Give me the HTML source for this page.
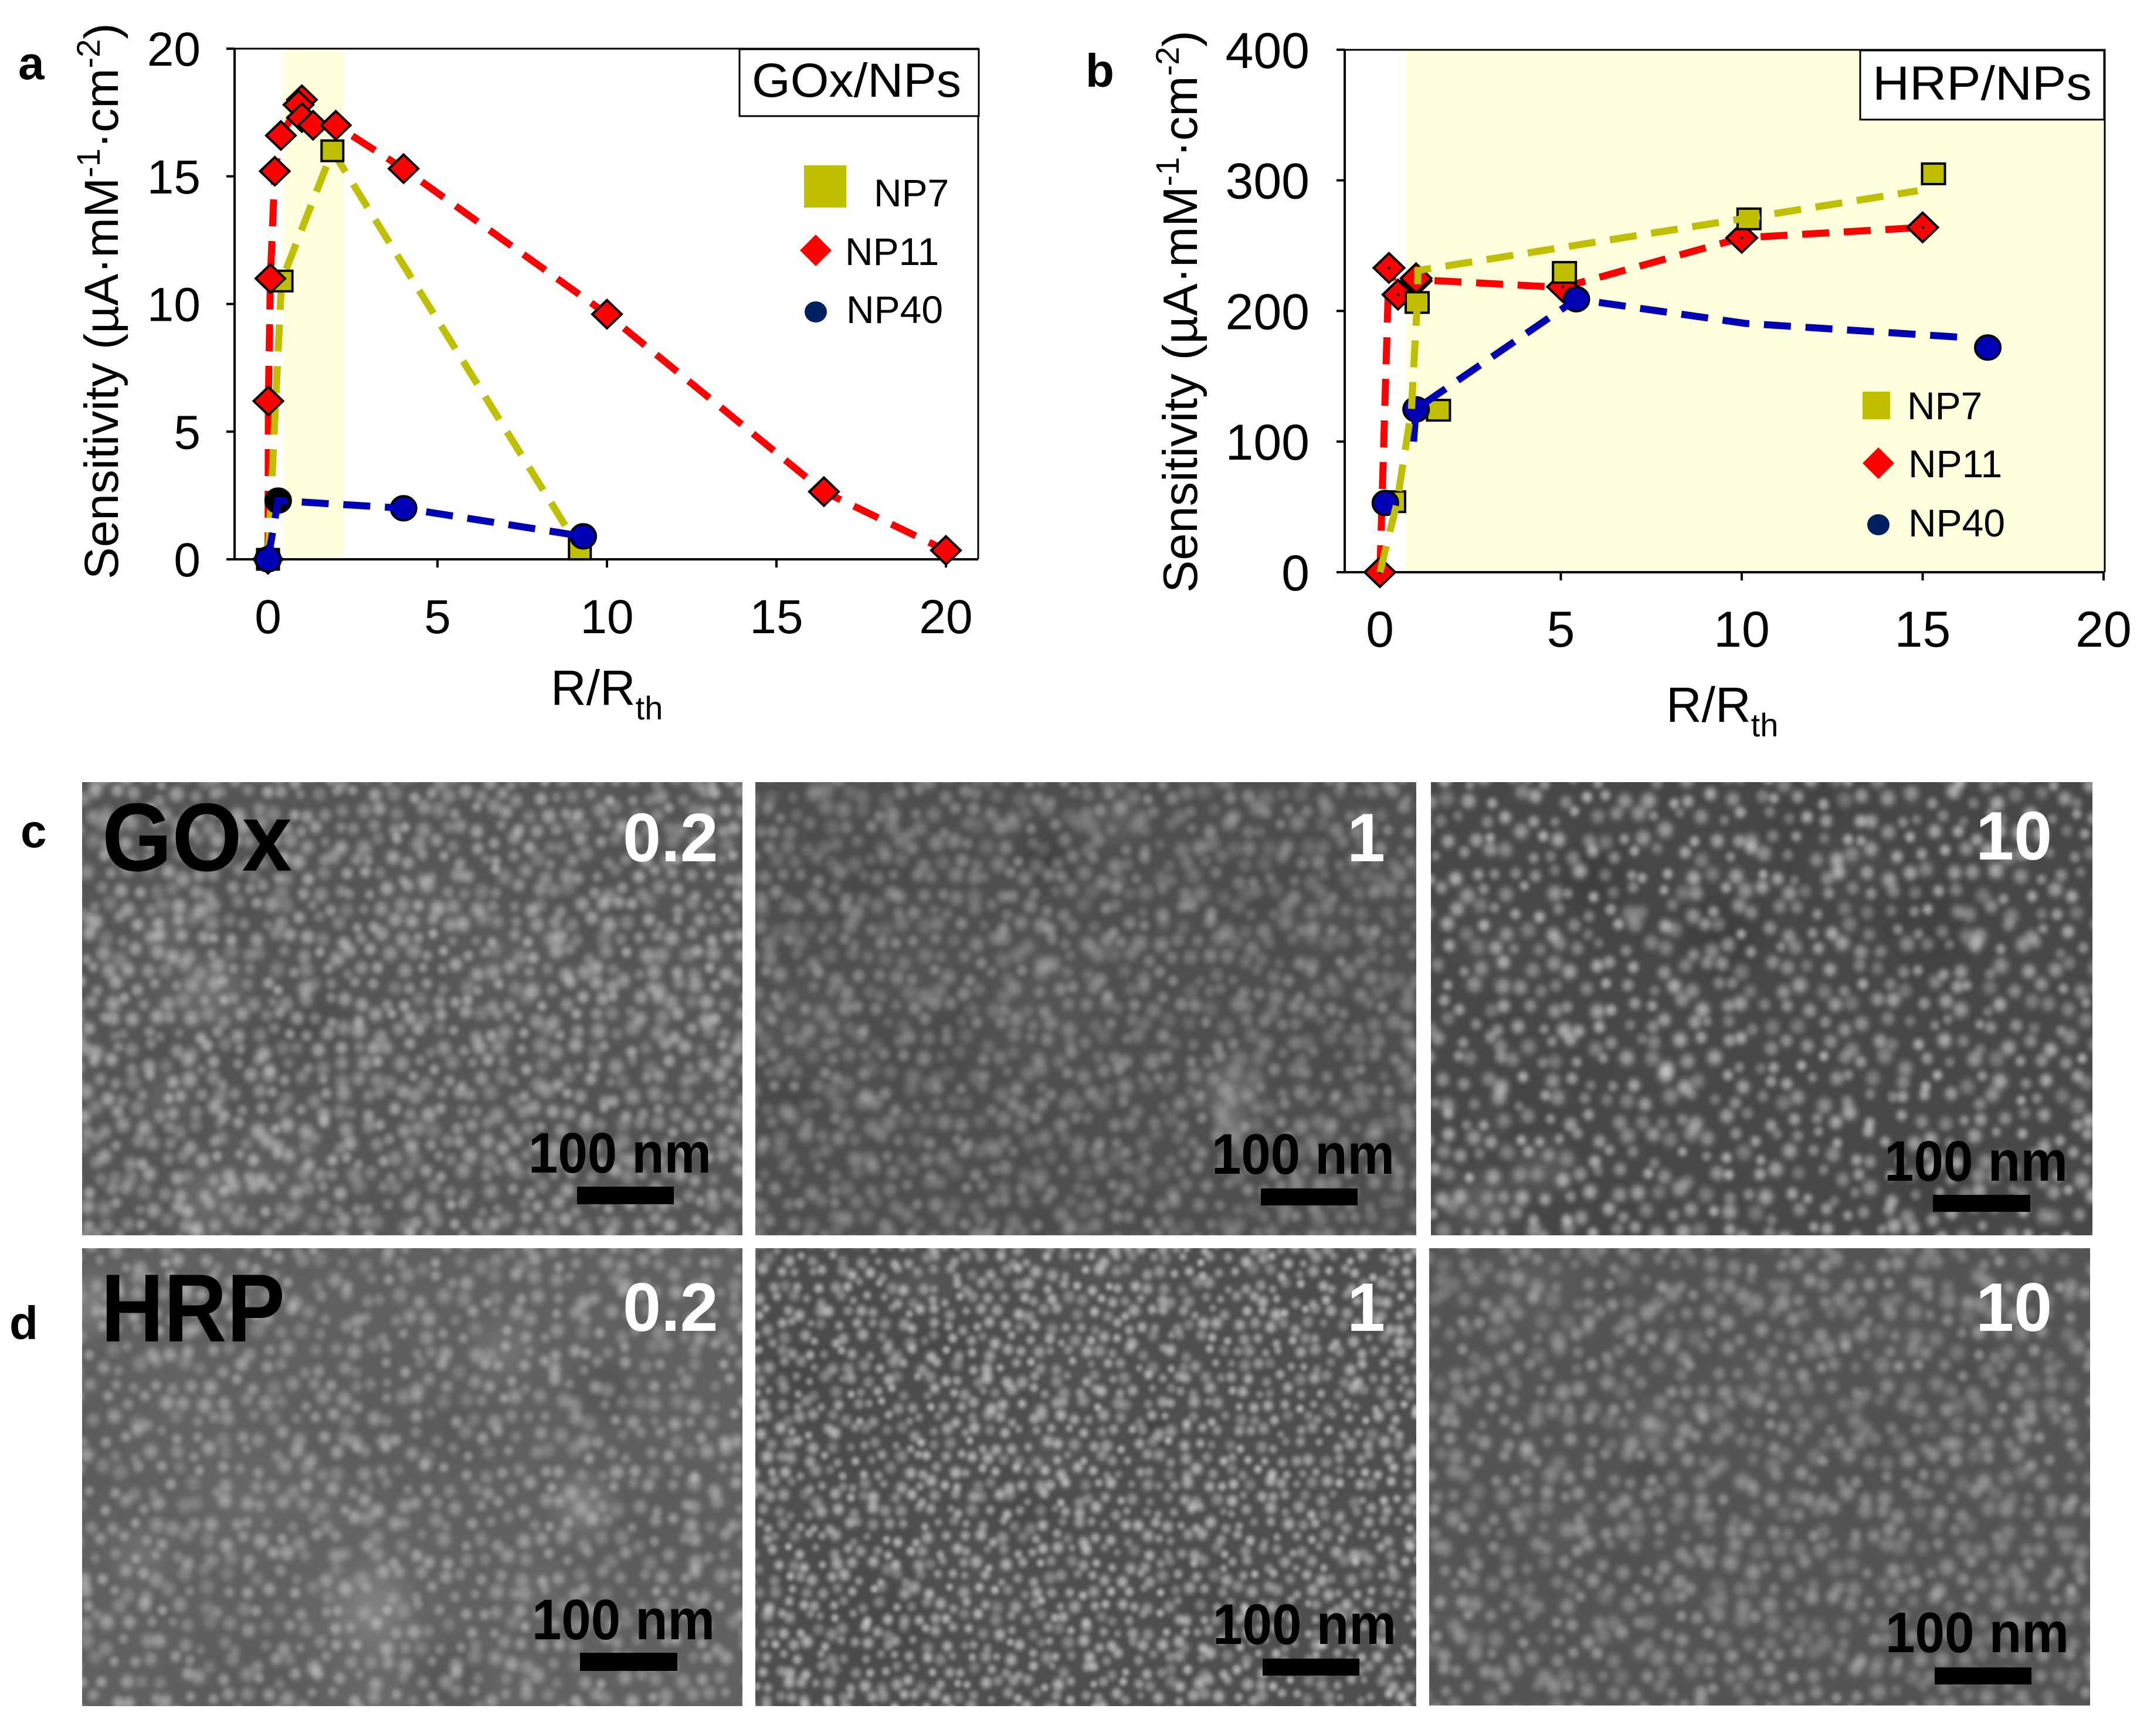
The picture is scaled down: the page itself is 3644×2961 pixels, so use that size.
<!DOCTYPE html>
<html lang="en">
<head>
<meta charset="utf-8">
<title>Sensitivity charts and SEM images</title>
<style>
html,body{margin:0;padding:0;background:#fff;}
#figure{position:relative;width:3644px;height:2961px;overflow:hidden;background:#fff;font-family:"Liberation Sans",sans-serif;}
#figure canvas{position:absolute;display:block;}
#overlay{position:absolute;left:0;top:0;}
text{font-family:"Liberation Sans",sans-serif;fill:#000;}
.tick-a{font-size:82px;}
.tick-b{font-size:86px;}
.title-a{font-size:82px;}
.title-b{font-size:83px;}
.xlabel{font-size:84px;}
.leg{font-size:66px;}
.panel-letter{font-size:80px;font-weight:bold;}
.sem-name{font-size:165px;font-weight:bold;}
.sem-ratio{font-size:117px;font-weight:bold;fill:#fff;}
.sem-scale{font-size:97px;font-weight:bold;}
</style>
</head>
<body>
<div id="figure">
<canvas id="sem1" width="1126" height="773" style="left:140px;top:1334px"></canvas>
<canvas id="sem2" width="1127" height="773" style="left:1288px;top:1334px"></canvas>
<canvas id="sem3" width="1128" height="773" style="left:2440px;top:1334px"></canvas>
<canvas id="sem4" width="1126" height="781" style="left:140px;top:2129px"></canvas>
<canvas id="sem5" width="1127" height="781" style="left:1288px;top:2129px"></canvas>
<canvas id="sem6" width="1127" height="780" style="left:2437px;top:2129px"></canvas>

<svg id="overlay" width="3644" height="2961" viewBox="0 0 3644 2961" xmlns="http://www.w3.org/2000/svg">
  <rect x="484" y="85" width="102" height="867" fill="#FFFFDD"/>
  <rect x="2397" y="86" width="1191" height="888" fill="#FFFFDD"/>
  <g id="chartA"></g>
  <g id="chartB"></g>

  <text class="panel-letter" x="31" y="135">a</text>
  <text class="panel-letter" x="1851" y="148">b</text>
  <text class="panel-letter" x="35" y="1445">c</text>
  <text class="panel-letter" x="16" y="2284">d</text>

  <text class="title-a" transform="translate(201,988) rotate(-90)">Sensitivity (µA·mM<tspan font-size="56" dy="-31">-1</tspan><tspan dy="31">·cm</tspan><tspan font-size="56" dy="-31">-2</tspan><tspan dy="31">)</tspan></text>
  <text class="xlabel" x="939" y="1202">R/R<tspan font-size="56" dy="25">th</tspan></text>
  <text class="title-b" transform="translate(2041,1011) rotate(-90)">Sensitivity (µA·mM<tspan font-size="56" dy="-31">-1</tspan><tspan dy="31">·cm</tspan><tspan font-size="56" dy="-31">-2</tspan><tspan dy="31">)</tspan></text>
  <text class="xlabel" x="2841" y="1231">R/R<tspan font-size="56" dy="25">th</tspan></text>

  <rect x="1261" y="84" width="408" height="114" fill="#fff" stroke="#000" stroke-width="3"/>
  <text x="1282" y="165" font-size="82" textLength="357" lengthAdjust="spacingAndGlyphs">GOx/NPs</text>
  <rect x="3172" y="86" width="416" height="118" fill="#fff" stroke="#000" stroke-width="3"/>
  <text x="3193" y="170" font-size="82" textLength="374" lengthAdjust="spacingAndGlyphs">HRP/NPs</text>

  <rect x="1371" y="282" width="72" height="72" fill="#BFBF00"/>
  <text class="leg" x="1490" y="352">NP7</text>
  <polygon points="1391,400 1418,427 1391,454 1364,427" fill="#FF0000"/>
  <text class="leg" x="1441" y="452">NP11</text>
  <ellipse cx="1391" cy="532" rx="19" ry="18" fill="#002060"/>
  <text class="leg" x="1443" y="551">NP40</text>

  <rect x="3176" y="668" width="47" height="47" fill="#BFBF00"/>
  <text class="leg" x="3252" y="715">NP7</text>
  <polygon points="3203,763 3230,790 3203,817 3176,790" fill="#FF0000"/>
  <text class="leg" x="3254" y="814">NP11</text>
  <ellipse cx="3203" cy="895" rx="19" ry="18" fill="#002060"/>
  <text class="leg" x="3254" y="915">NP40</text>

  <text class="sem-name" x="174" y="1485" textLength="324" lengthAdjust="spacingAndGlyphs">GOx</text>
  <text class="sem-name" x="172" y="2288" textLength="314" lengthAdjust="spacingAndGlyphs">HRP</text>

  <text class="sem-ratio" x="1062" y="1469">0.2</text>
  <text class="sem-ratio" x="2297" y="1469">1</text>
  <text class="sem-ratio" x="3369" y="1466">10</text>
  <text class="sem-ratio" x="1062" y="2270">0.2</text>
  <text class="sem-ratio" x="2297" y="2270">1</text>
  <text class="sem-ratio" x="3369" y="2270">10</text>

  <text class="sem-scale" x="901" y="2000" textLength="312" lengthAdjust="spacingAndGlyphs">100 nm</text>
  <rect x="984" y="2024" width="165" height="30" fill="#000"/>
  <text class="sem-scale" x="2066" y="2002" textLength="312" lengthAdjust="spacingAndGlyphs">100 nm</text>
  <rect x="2150" y="2027" width="165" height="29" fill="#000"/>
  <text class="sem-scale" x="3213" y="2014" textLength="313" lengthAdjust="spacingAndGlyphs">100 nm</text>
  <rect x="3296" y="2038" width="166" height="29" fill="#000"/>
  <text class="sem-scale" x="907" y="2796" textLength="312" lengthAdjust="spacingAndGlyphs">100 nm</text>
  <rect x="989" y="2819" width="166" height="31" fill="#000"/>
  <text class="sem-scale" x="2068" y="2804" textLength="313" lengthAdjust="spacingAndGlyphs">100 nm</text>
  <rect x="2153" y="2829" width="165" height="29" fill="#000"/>
  <text class="sem-scale" x="3215" y="2818" textLength="313" lengthAdjust="spacingAndGlyphs">100 nm</text>
  <rect x="3299" y="2844" width="165" height="29" fill="#000"/>
</svg>
</div>

<script>
/* ---------- chart data ---------- */
const aXTicks = [0, 5, 10, 15, 20];
const aYTicks = [0, 5, 10, 15, 20];
const aNP7X  = [0, 0.4, 1.9, 9.2];
const aNP7Y  = [0, 10.9, 16, 0.4];
const aNP11X = [0, 0.01, 0.07, 0.2, 0.38, 1.0, 0.9, 1.0, 1.33, 2.0, 4.0, 10.0, 16.4, 20.0];
const aNP11Y = [0, 6.2, 11, 15.2, 16.6, 18, 17.8, 17.3, 17, 17, 15.3, 9.6, 2.65, 0.35];
const aNP40X = [0, 0.3, 4.0, 9.3];
const aNP40Y = [0, 2.3, 2.0, 0.9];

const bXTicks = [0, 5, 10, 15, 20];
const bYTicks = [0, 100, 200, 300, 400];
const bNP7X  = [0.38, 1.62, 1.03, 5.1, 10.2, 15.3];
const bNP7Y  = [54, 124, 206.5, 229.5, 270.5, 305];
const bNP7LineX = [0, 0.47, 0.87, 1.03, 1.05, 14.86];
const bNP7LineY = [0, 53, 124, 206, 231, 292];
const bNP11X = [0, 0.25, 0.5, 1.0, 1.0, 5.05, 10, 15];
const bNP11Y = [0, 233, 212.5, 223, 225, 218.5, 256, 264];
const bNP11LineX = [0, 0.25, 0.5, 1.0, 5.05, 10, 15];
const bNP11LineY = [0, 233, 212.5, 224, 218, 256, 264];
const bNP40X = [0.15, 1.0, 5.43, 16.8];
const bNP40Y = [53, 124.7, 209, 172];
const bNP40LineX = [0.93, 1.0, 5.43, 10.1, 16.0];
const bNP40LineY = [100, 125, 209, 190.5, 180];

/* ---------- axis functions ---------- */
function axX(v){ return 457 + 57.8 * v; }
function ayY(v){ return 954 - 43.55 * v; }
function bxX(v){ return 2353 + 61.7 * v; }
function byY(v){ return 976 - 2.228 * v; }

const NS = 'http://www.w3.org/2000/svg';
const RED = '#FF0000', OLIVE = '#BFBF00', BLUE = '#0000B4';

function make(parent, tag, attrs){
  const el = document.createElementNS(NS, tag);
  for (const k in attrs) el.setAttribute(k, attrs[k]);
  parent.appendChild(el);
  return el;
}
function series(parent, xs, ys, fx, fy, color, name){
  const pts = xs.map(function(v, i){ return fx(v).toFixed(1) + ',' + fy(ys[i]).toFixed(1); }).join(' ');
  const el = make(parent, 'polyline', {points: pts, fill: 'none', stroke: color, 'stroke-width': 12, 'stroke-dasharray': '46 25', 'stroke-linejoin': 'miter'});
  
  
}
function squares(parent, xs, ys, fx, fy, w, h, name){
  xs.forEach(function(v, i){
    const el = make(parent, 'rect', {x: fx(v) - w / 2, y: fy(ys[i]) - h / 2, width: w, height: h, fill: OLIVE, stroke: '#000', 'stroke-width': 4});
    
    
  });
}
function diamonds(parent, xs, ys, fx, fy, hw, hh, dot, name){
  xs.forEach(function(v, i){
    const cx = fx(v), cy = fy(ys[i]);
    const el = make(parent, 'polygon', {points: (cx) + ',' + (cy - hh) + ' ' + (cx + hw) + ',' + cy + ' ' + cx + ',' + (cy + hh) + ' ' + (cx - hw) + ',' + cy, fill: RED, stroke: '#000', 'stroke-width': 4});
    
    
    if (dot) {
      const d = make(parent, 'circle', {cx: cx, cy: cy, r: 2.5, fill: '#000'});
      
      
    }
  });
}
function circles(parent, xs, ys, fx, fy, blackIndex, name){
  xs.forEach(function(v, i){
    const el = make(parent, 'ellipse', {cx: fx(v), cy: fy(ys[i]), rx: 21.5, ry: 20.5, fill: i === blackIndex ? '#000' : BLUE, stroke: '#000', 'stroke-width': 4});
    
    
  });
}
function axes(parent, L, R, T, B, xTicks, yTicks, fx, fy, cls, yLabelX, yOffset, xLabelY, prefix){
  const frame = make(parent, 'path', {d: 'M' + L + ' ' + T + 'H' + R + 'V' + B, fill: 'none', stroke: '#000', 'stroke-width': 3});
  
  
  const yAxis = make(parent, 'line', {x1: L, x2: L, y1: T, y2: B, stroke: '#000', 'stroke-width': 4});
  
  
  const xAxis = make(parent, 'line', {x1: L - 14, x2: R, y1: B, y2: B, stroke: '#000', 'stroke-width': 4});
  
  
  yTicks.forEach(function(v){
    const t = make(parent, 'line', {x1: L - 14, x2: L, y1: fy(v), y2: fy(v), stroke: '#000', 'stroke-width': 4});
    
    
    const l = make(parent, 'text', {x: yLabelX, y: fy(v) + yOffset, 'text-anchor': 'end', 'class': cls});
    l.textContent = String(v);
    
    
  });
  xTicks.forEach(function(v){
    const t = make(parent, 'line', {x1: fx(v), x2: fx(v), y1: B, y2: B + 14, stroke: '#000', 'stroke-width': 4});
    
    
    const l = make(parent, 'text', {x: fx(v), y: xLabelY, 'text-anchor': 'middle', 'class': cls});
    l.textContent = String(v);
    
    
  });
}

/* chart a */
const gA = document.getElementById('chartA');
axes(gA, 400, 1668, 83, 954, aXTicks, aYTicks, axX, ayY, 'tick-a', 342, 29, 1080, 'chart-a');
series(gA, aNP11X, aNP11Y, axX, ayY, RED, 'chart-a-np11-line');
series(gA, aNP7X, aNP7Y, axX, ayY, OLIVE, 'chart-a-np7-line');
squares(gA, [0], [0], axX, ayY, 37, 35, 'chart-a-np7-origin-marker');
squares(gA, aNP7X.slice(1), aNP7Y.slice(1), axX, ayY, 37, 35, 'chart-a-np7-marker');
diamonds(gA, aNP11X, aNP11Y, axX, ayY, 25, 24, false, 'chart-a-np11-marker');
circles(gA, aNP40X, aNP40Y, axX, ayY, 1, 'chart-a-np40-marker');
series(gA, aNP40X, aNP40Y, axX, ayY, BLUE, 'chart-a-np40-line');

/* chart b */
const gB = document.getElementById('chartB');
axes(gB, 2293, 3589, 85, 976, bXTicks, bYTicks, bxX, byY, 'tick-b', 2233, 31, 1103, 'chart-b');
series(gB, bNP11LineX, bNP11LineY, bxX, byY, RED, 'chart-b-np11-line');
diamonds(gB, bNP11X, bNP11Y, bxX, byY, 26, 25, true, 'chart-b-np11-marker');
squares(gB, bNP7X, bNP7Y, bxX, byY, 39, 35, 'chart-b-np7-marker');
circles(gB, bNP40X, bNP40Y, bxX, byY, -1, 'chart-b-np40-marker');
series(gB, bNP40LineX, bNP40LineY, bxX, byY, BLUE, 'chart-b-np40-line');
series(gB, bNP7LineX, bNP7LineY, bxX, byY, OLIVE, 'chart-b-np7-line');

/* ---------- SEM micrograph texture (decorative, not chart data) ---------- */
function lcg(seed){
  let s = seed >>> 0;
  return function(){ s = (Math.imul(s, 1664525) + 1013904223) >>> 0; return s / 4294967296; };
}
function paintSem(id, bg, spacing, radius, alpha, seed, patches){
  const c = document.getElementById(id);
  const ctx = c.getContext('2d');
  const W = c.width, H = c.height;
  const rnd = lcg(seed);
  ctx.fillStyle = 'rgb(' + bg + ',' + bg + ',' + bg + ')';
  ctx.fillRect(0, 0, W, H);
  /* slow brightness variations */
  for (let k = 0; k < 14; k++) {
    const x = rnd() * W, y = rnd() * H, r = 60 + rnd() * 130, dark = rnd() < 0.5;
    const g = ctx.createRadialGradient(x, y, 0, x, y, r);
    const a = 0.03 + rnd() * 0.04;
    g.addColorStop(0, (dark ? 'rgba(0,0,0,' : 'rgba(255,255,255,') + a + ')');
    g.addColorStop(1, dark ? 'rgba(0,0,0,0)' : 'rgba(255,255,255,0)');
    ctx.fillStyle = g;
    ctx.fillRect(x - r, y - r, 2 * r, 2 * r);
  }
  patches.forEach(function(p){
    const x = p[0] * W, y = p[1] * H, r = p[2], a = p[3];
    const g = ctx.createRadialGradient(x, y, 0, x, y, r);
    const col = a > 0 ? '255,255,255,' : '0,0,0,';
    g.addColorStop(0, 'rgba(' + col + Math.abs(a) + ')');
    g.addColorStop(1, 'rgba(' + col + '0)');
    ctx.fillStyle = g;
    ctx.fillRect(x - r, y - r, 2 * r, 2 * r);
  });
  /* gaussian-like particle sprite */
  const S = 64;
  const sp = document.createElement('canvas');
  sp.width = sp.height = S;
  const sc = sp.getContext('2d');
  const sg = sc.createRadialGradient(S / 2, S / 2, 0, S / 2, S / 2, S / 2);
  sg.addColorStop(0, 'rgba(255,255,255,1)');
  sg.addColorStop(0.35, 'rgba(255,255,255,0.72)');
  sg.addColorStop(0.7, 'rgba(255,255,255,0.18)');
  sg.addColorStop(1, 'rgba(255,255,255,0)');
  sc.fillStyle = sg;
  sc.fillRect(0, 0, S, S);
  const rowH = spacing * 0.87;
  let row = 0;
  for (let y = -spacing; y < H + spacing; y += rowH, row++) {
    for (let x = -spacing + (row % 2) * spacing / 2; x < W + spacing; x += spacing) {
      const px = x + (rnd() - 0.5) * spacing * 0.62;
      const py = y + (rnd() - 0.5) * spacing * 0.62;
      const r = radius * (0.78 + rnd() * 0.5);
      ctx.globalAlpha = alpha * (0.55 + rnd() * 0.6);
      ctx.drawImage(sp, px - r, py - r * 1.05, 2 * r, 2.1 * r);
    }
  }
  ctx.globalAlpha = 1;
}
paintSem('sem1', 86, 31, 18, 0.42, 11, [[0.20,0.46,70,0.16],[0.12,0.32,60,0.10],[0.13,0.70,60,0.12],[0.19,0.92,70,0.16],[0.35,0.53,90,-0.12]]);
paintSem('sem2', 78, 32, 19, 0.30, 23, [[0.72,0.68,70,0.20],[0.72,0.76,40,0.22],[0.44,0.17,70,-0.18],[0.55,0.08,60,0.12],[0.30,0.50,200,-0.05]]);
paintSem('sem3', 72, 37, 18, 0.50, 37, [[0.44,0.34,100,-0.18],[0.24,0.20,90,-0.14],[0.08,0.93,80,0.16],[0.17,0.85,70,0.14],[0.75,0.90,120,-0.08]]);
paintSem('sem4', 96, 34, 17.5, 0.36, 41, [[0.76,0.56,70,0.22],[0.64,0.22,70,0.14],[0.44,0.79,90,0.18],[0.09,0.67,70,0.12],[0.02,0.12,70,0.20],[0.55,0.95,90,-0.18],[0.79,0.31,70,-0.14],[0.58,0.40,90,-0.08]]);
paintSem('sem5', 78, 26, 14, 0.52, 53, [[0.60,0.41,36,-0.34],[0.08,0.30,90,-0.06],[0.30,0.22,70,-0.06]]);
paintSem('sem6', 84, 35, 19, 0.34, 67, [[0.33,0.40,70,0.10],[0.33,0.47,50,-0.12],[0.60,0.55,90,-0.05]]);
</script>
</body>
</html>
